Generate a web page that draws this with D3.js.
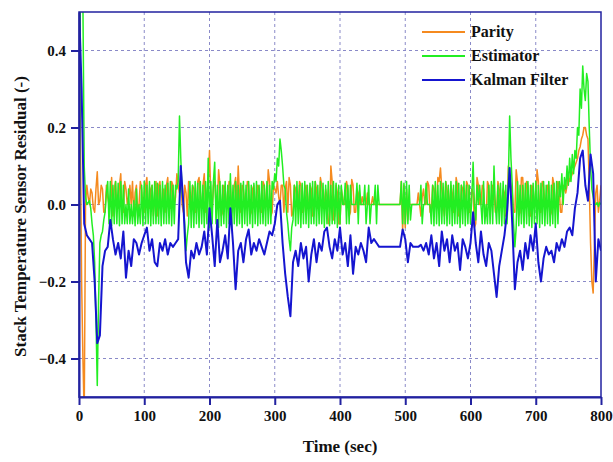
<!DOCTYPE html>
<html>
<head>
<meta charset="utf-8">
<script src="https://cdn.jsdelivr.net/npm/d3@7"></script>
<style>
  body { margin: 0; background: #fff; }
  text { font-family: "Liberation Serif", "Times New Roman", serif; font-weight: bold; }
</style>
</head>
<body>
<div class="chart"></div>
<script>
// sampling intervals of the logged residuals (sec)
const residualStep = 2;
const kalmanStep = 4;

const xTicks = [0, 100, 200, 300, 400, 500, 600, 700, 800];
const yTicks = [-0.4, -0.2, 0.0, 0.2, 0.4];
const seriesNames = ['Parity', 'Estimator', 'Kalman Filter'];

// one row = 40 sec (2 s samples)
const parity = [
  0.52, 0.2, -0.2, -0.4, -0.55, 0.0, 0.05, 0.02, 0.0, 0.04, 0.03, -0.01, -0.02, 0.04, 0.085, 0.0, 0.01, 0.05, 0.04, -0.02,
  -0.02, 0.05, 0.02, 0.0, 0.0, 0.07, -0.03, 0.04, 0.06, -0.01, -0.01, 0.05, 0.08, -0.02, -0.02, 0.06, 0.04, 0.0, 0.02, 0.05,
  0.0, 0.06, -0.03, 0.03, 0.05, -0.02, 0.0, 0.06, 0.04, -0.01, -0.02, 0.05, 0.07, 0.0, -0.01, 0.04, 0.05, -0.03, 0.02, 0.06,
  -0.03, 0.05, 0.06, 0.0, 0.0, 0.04, -0.02, 0.05, 0.07, -0.01, -0.01, 0.06, 0.05, 0.0, 0.02, 0.08, 0.05, 0.03, 0.08, 0.0,
  -0.02, 0.05, 0.03, -0.03, 0.06, 0.0, 0.0, 0.05, 0.04, -0.02, -0.02, 0.06, 0.07, 0.0, -0.01, 0.05, 0.08, -0.02, 0.03, 0.06,
  0.14, 0.02, -0.02, 0.05, 0.06, 0.0, 0.0, 0.09, 0.05, -0.03, -0.02, 0.05, 0.04, 0.0, 0.0, 0.06, 0.06, -0.02, -0.01, 0.05,
  0.07, 0.0, 0.1, 0.02, -0.02, 0.05, 0.04, 0.0, 0.0, 0.06, 0.05, -0.03, -0.02, 0.04, 0.05, 0.0, 0.0, 0.05, 0.04, -0.02,
  -0.02, 0.06, 0.05, 0.0, 0.0, 0.09, 0.06, -0.03, -0.02, 0.05, 0.04, 0.03, 0.06, 0.02, 0.0, 0.05, 0.05, -0.02, 0.04, 0.06,
  -0.02, 0.07, 0.05, -0.03, -0.02, 0.05, 0.04, 0.0, 0.0, 0.06, 0.05, -0.02, -0.02, 0.04, 0.05, 0.0, 0.0, 0.05, 0.04, -0.03,
  -0.03, 0.06, 0.04, -0.01, -0.01, 0.07, 0.05, 0.0, 0.0, 0.04, 0.02, -0.05, -0.04, 0.1, 0.06, -0.04, -0.03, 0.05, 0.03, -0.05,
  -0.05, 0.04, 0.02, 0.0, 0.0, 0.06, 0.04, -0.03, -0.02, 0.065, 0.05, -0.02, -0.02, 0.04, 0.03, 0.0, 0.0, 0.02, 0.0, 0.0,
  0.0, 0.03, 0.0, 0.0, 0.0, 0.02, 0.0, 0.0, 0.0, 0.0, 0.0, 0.0, 0.0, 0.0, 0.0, 0.0, 0.0, 0.0, 0.0, 0.0,
  0.0, 0.0, 0.0, 0.0, 0.0, 0.0, 0.0, 0.06, -0.07, 0.05, -0.06, 0.04, -0.04, 0.0, 0.0, 0.0, 0.0, 0.0, 0.0, 0.0,
  0.03, 0.0, -0.03, 0.02, 0.04, 0.0, 0.0, 0.06, 0.05, -0.02, -0.02, 0.05, 0.04, 0.0, 0.0, 0.07, 0.06, 0.095, 0.04, 0.0,
  -0.03, 0.06, 0.04, 0.0, 0.0, 0.05, 0.03, -0.02, -0.02, 0.07, 0.05, -0.03, -0.03, 0.05, 0.04, 0.0, 0.0, 0.06, 0.05, -0.02,
  -0.02, 0.04, 0.03, -0.06, -0.05, 0.07, 0.05, 0.0, 0.0, 0.05, 0.04, -0.03, -0.03, 0.06, 0.05, 0.0, 0.0, 0.05, 0.04, -0.02,
  -0.02, 0.06, 0.04, 0.0, 0.0, 0.04, 0.03, -0.03, -0.03, 0.1, 0.07, 0.05, 0.03, -0.02, -0.02, 0.09, 0.06, -0.03, -0.02, 0.07,
  0.07, 0.0, 0.0, 0.06, 0.05, -0.03, -0.03, 0.05, 0.04, 0.0, 0.0, 0.09, 0.06, -0.02, -0.02, 0.06, 0.05, 0.0, 0.0, 0.05,
  0.05, -0.03, -0.02, 0.07, 0.05, 0.0, 0.0, 0.06, 0.04, -0.02, -0.02, 0.05, 0.04, 0.03, 0.05, 0.08, 0.06, 0.07, 0.08, 0.09,
  0.1, 0.11, 0.12, 0.14, 0.15, 0.17, 0.18, 0.2, 0.2, 0.18, 0.17, 0.05, -0.1, -0.2, -0.23, -0.1, 0.03, 0.05, -0.02, 0.01,
  0.05
];

const estimator = [
  -0.33, 0.52, 0.52, 0.52, 0.1, 0.02, 0.0, 0.005, 0.01, -0.01, -0.05, -0.08, -0.15, -0.3, -0.47, -0.25, -0.1, -0.08, -0.07, -0.04,
  -0.02, 0.03, 0.06, -0.05, 0.06, -0.055, 0.05, -0.05, 0.06, -0.05, 0.055, -0.055, 0.06, -0.05, 0.05, -0.05, 0.0, -0.05, 0.04, -0.05,
  0.0, -0.05, 0.01, -0.055, 0.04, -0.05, 0.0, -0.05, 0.05, -0.055, 0.06, -0.05, 0.05, -0.05, 0.06, -0.055, 0.05, -0.05, 0.06, -0.05,
  0.055, -0.05, 0.05, -0.055, 0.06, -0.05, 0.05, -0.05, 0.055, -0.05, 0.06, -0.055, 0.05, -0.05, 0.05, 0.04, 0.06, 0.23, 0.12, 0.03,
  0.0, -0.05, -0.12, -0.08, -0.05, 0.06, -0.06, 0.05, -0.06, 0.06, -0.05, 0.055, -0.06, 0.06, -0.05, 0.05, -0.06, 0.06, -0.05, 0.12,
  -0.06, 0.06, -0.05, 0.06, 0.11, -0.05, 0.05, -0.06, 0.06, -0.055, 0.05, -0.05, 0.06, -0.06, 0.05, -0.05, 0.08, -0.06, 0.05, -0.05,
  0.06, -0.055, 0.05, -0.05, 0.055, -0.06, 0.06, -0.05, 0.05, -0.055, 0.06, -0.05, 0.05, -0.06, 0.055, -0.05, 0.06, -0.055, 0.05, -0.05,
  0.06, -0.05, 0.05, -0.055, 0.06, -0.05, 0.05, -0.05, 0.06, 0.04, 0.08, 0.06, 0.12, 0.1, 0.17, 0.14, 0.1, 0.05, 0.04, -0.02,
  -0.05, -0.09, -0.12, -0.06, -0.04, 0.05, -0.055, 0.06, -0.05, 0.05, -0.06, 0.055, -0.05, 0.06, -0.05, 0.05, -0.06, 0.055, -0.05, 0.06,
  -0.05, 0.06, -0.055, 0.05, -0.05, 0.06, -0.05, 0.055, -0.06, 0.05, -0.05, 0.06, -0.055, 0.05, -0.05, 0.06, -0.05, 0.055, -0.06, 0.05,
  -0.05, 0.05, 0.0, 0.0, 0.055, -0.05, 0.05, -0.05, 0.05, 0.0, 0.0, 0.0, 0.0, 0.055, -0.05, 0.05, 0.0, 0.0, 0.0, 0.05,
  -0.05, 0.0, 0.05, -0.05, 0.0, 0.0, 0.0, 0.05, -0.05, 0.05, 0.0, 0.0, 0.0, 0.0, 0.0, 0.0, 0.0, 0.0, 0.0, 0.0,
  0.0, 0.0, 0.0, 0.0, 0.0, 0.0, 0.0, 0.06, -0.05, 0.055, -0.05, 0.06, -0.05, 0.05, -0.04, 0.0, 0.0, 0.0, 0.0, 0.0,
  0.0, 0.0, 0.05, -0.05, 0.0, 0.0, 0.055, 0.0, 0.0, 0.0, -0.05, 0.05, -0.055, 0.06, -0.05, 0.05, -0.055, 0.06, -0.05, 0.055,
  -0.05, 0.06, -0.055, 0.05, -0.05, 0.06, -0.055, 0.05, -0.05, 0.06, -0.05, 0.055, -0.06, 0.05, -0.05, 0.06, -0.055, 0.05, -0.05, 0.05,
  -0.05, 0.02, 0.11, 0.0, -0.04, 0.05, 0.0, 0.05, 0.0, -0.05, 0.06, -0.05, 0.0, -0.05, 0.05, -0.05, 0.06, -0.05, 0.1, 0.0,
  -0.05, 0.05, -0.05, 0.055, -0.055, 0.06, -0.05, 0.05, -0.05, 0.06, 0.23, 0.12, 0.05, -0.05, -0.11, -0.06, 0.06, -0.055, 0.05, -0.05,
  0.05, -0.06, 0.055, -0.05, 0.06, -0.055, 0.05, -0.06, 0.055, -0.05, 0.06, -0.05, 0.05, -0.06, 0.055, -0.05, 0.06, -0.055, 0.05, -0.05,
  0.06, -0.055, 0.05, -0.05, 0.055, -0.06, 0.06, -0.05, 0.06, 0.02, 0.08, 0.0, 0.07, 0.04, 0.1, 0.05, 0.12, 0.06, 0.13, 0.08,
  0.14, 0.12, 0.2, 0.18, 0.3, 0.25, 0.36, 0.3, 0.27, 0.34, 0.32, 0.2, 0.1, 0.04, 0.02, 0.0, 0.0, 0.005, -0.005, 0.005,
  0.0
];

// one row = 40 sec (4 s samples)
const kalman = [
  0.52, 0.3, -0.05, -0.08, -0.09, -0.1, -0.2, -0.36, -0.34, -0.16,
  -0.12, -0.11, -0.04, -0.09, -0.13, -0.1, -0.14, -0.07, -0.19, -0.12,
  -0.16, -0.09, -0.1, -0.13, -0.1, -0.08, -0.06, -0.12, -0.09, -0.15,
  -0.16, -0.1, -0.12, -0.09, -0.13, -0.1, -0.11, -0.1, -0.09, 0.1,
  0.0, -0.15, -0.19, -0.12, -0.14, -0.1, -0.13, -0.11, -0.07, -0.13,
  -0.01, -0.08, -0.16, -0.04, -0.15, -0.12, -0.08, -0.14, -0.01, -0.1,
  -0.22, -0.12, -0.1, -0.15, -0.09, -0.065, -0.13, -0.1, -0.12, -0.09,
  -0.11, -0.13, -0.1, -0.07, -0.08, -0.05, 0.0, 0.01, -0.1, -0.18,
  -0.24, -0.29, -0.15, -0.12, -0.16, -0.1, -0.14, -0.11, -0.2, -0.13,
  -0.09, -0.15, -0.1, -0.12, -0.07, -0.06, -0.11, -0.14, -0.09, -0.12,
  -0.06, -0.13, -0.1, -0.16, -0.08, -0.18, -0.11, -0.13, -0.1, -0.12,
  -0.15, -0.06, -0.1, -0.09, -0.1, -0.11, -0.11, -0.11, -0.11, -0.11,
  -0.11, -0.11, -0.11, -0.11, -0.065, -0.09, -0.15, -0.1, -0.11, -0.11,
  -0.11, -0.105, -0.12, -0.1, -0.13, -0.08, -0.14, -0.1, -0.16, -0.07,
  -0.12, -0.09, -0.15, -0.08, -0.12, -0.1, -0.17, -0.09, -0.11, -0.14,
  -0.1, -0.02, -0.1, -0.15, -0.07, -0.13, -0.16, -0.1, -0.12, -0.18,
  -0.24, -0.16, -0.12, -0.08, -0.02, 0.095, -0.05, -0.22, -0.15, -0.12,
  -0.17, -0.1, -0.14, -0.08, -0.12, -0.05, -0.15, -0.2, -0.14, -0.11,
  -0.13, -0.12, -0.15, -0.1, -0.12, -0.09, -0.11, -0.07, -0.06, -0.08,
  -0.01, 0.03, 0.12, 0.14, 0.05, 0.01, 0.13, 0.08, -0.2, -0.09,
  -0.12
];

const colors = ['#f58a1f', '#22ee22', '#1515d0'];
const widths = [1.5, 1.5, 2];
const steps = [residualStep, residualStep, kalmanStep];

const W = 613, H = 462;
const margin = { top: 12, right: 12, bottom: 65, left: 79 };
const graphWidth = W - margin.left - margin.right;
const graphHeight = H - margin.top - margin.bottom;
const axisColor = '#2222a0';

const svg = d3.select('.chart')
  .append('svg')
    .attr('width', W)
    .attr('height', H);

const graph = svg.append('g')
  .attr('transform', `translate(${margin.left}, ${margin.top})`);

const x = d3.scaleLinear().domain([0, 800]).range([0, graphWidth]);
const y = d3.scaleLinear().domain([-0.5, 0.5]).range([graphHeight, 0]);

// dashed grid
graph.append('g')
  .selectAll('line')
  .data(xTicks.slice(1, -1))
  .enter().append('line')
    .attr('x1', d => x(d)).attr('x2', d => x(d))
    .attr('y1', 0).attr('y2', graphHeight)
    .attr('stroke', '#8a8ac8').attr('stroke-width', 1).attr('stroke-dasharray', '3,3');

graph.append('g')
  .selectAll('line')
  .data(yTicks)
  .enter().append('line')
    .attr('y1', d => y(d)).attr('y2', d => y(d))
    .attr('x1', 0).attr('x2', graphWidth)
    .attr('stroke', '#8a8ac8').attr('stroke-width', 1).attr('stroke-dasharray', '3,3');

// lines
svg.append('defs').append('clipPath').attr('id', 'plot-clip')
  .append('rect').attr('width', graphWidth).attr('height', graphHeight);

const plot = graph.append('g').attr('clip-path', 'url(#plot-clip)');
[parity, estimator, kalman].forEach((s, k) => {
  const line = d3.line()
    .x((d, i) => x(i * steps[k]))
    .y(d => y(d));
  plot.append('path')
    .datum(s)
    .attr('d', line)
    .attr('fill', 'none')
    .attr('stroke', colors[k])
    .attr('stroke-width', widths[k])
    .attr('stroke-linejoin', 'round');
});

// frame
graph.append('rect')
  .attr('width', graphWidth).attr('height', graphHeight)
  .attr('fill', 'none').attr('stroke', axisColor).attr('stroke-width', 1.5);

// axes
const xAxis = d3.axisBottom(x).tickValues(xTicks).tickSize(8).tickSizeOuter(0).tickPadding(5);
const yAxis = d3.axisLeft(y).tickValues(yTicks).tickSize(8).tickSizeOuter(0).tickPadding(5)
  .tickFormat(d3.format('.1f'));

const xAxisGroup = graph.append('g')
  .attr('transform', `translate(0, ${graphHeight})`)
  .call(xAxis);
const yAxisGroup = graph.append('g').call(yAxis);

[xAxisGroup, yAxisGroup].forEach(g => {
  g.attr('font-family', null);
  g.select('.domain').attr('stroke', axisColor).attr('stroke-width', 2);
  g.selectAll('.tick line').attr('stroke', axisColor).attr('stroke-width', 2);
  g.selectAll('text')
    .attr('fill', '#111')
    .attr('font-size', 15);
});

// axis titles
svg.append('text')
  .attr('x', margin.left + graphWidth / 2)
  .attr('y', 452)
  .attr('text-anchor', 'middle')
  .attr('font-size', 17)
  .attr('fill', '#111')
  .text('Time (sec)');

svg.append('text')
  .attr('transform', `translate(26, ${margin.top + graphHeight / 2 + 12}) rotate(-90)`)
  .attr('text-anchor', 'middle')
  .attr('font-size', 17)
  .attr('fill', '#111')
  .text('Stack Temperature Sensor Residual (-)');

// legend
const legend = svg.append('g').attr('transform', 'translate(422, 32)');
seriesNames.forEach((name, k) => {
  const row = legend.append('g').attr('transform', `translate(0, ${k * 24})`);
  row.append('line')
    .attr('x1', 0).attr('x2', 43)
    .attr('stroke', colors[k]).attr('stroke-width', 2);
  row.append('text')
    .attr('x', 49).attr('y', 5)
    .attr('font-size', 16)
    .attr('fill', '#111')
    .text(name);
});
</script>
</body>
</html>
